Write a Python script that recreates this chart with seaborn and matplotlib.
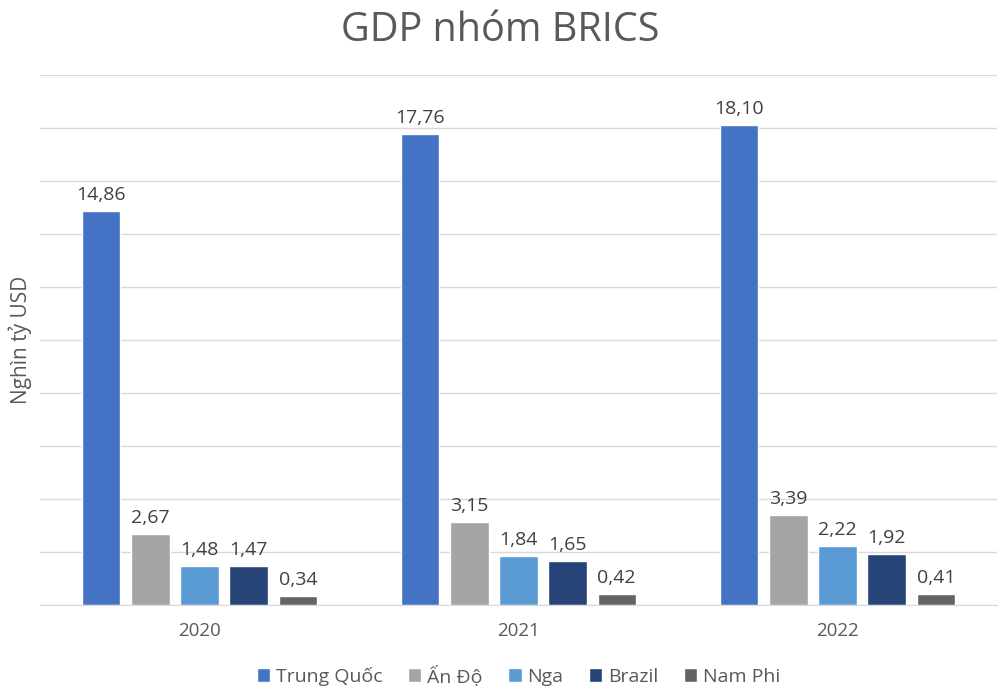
import matplotlib.pyplot as plt
import seaborn as sns
import pandas

years = ["2020", "2021", "2022"]
countries = ["Trung Quốc", "Ấn Độ", "Nga", "Brazil", "Nam Phi"]
trung_quoc = [14.86, 17.76, 18.10]
an_do = [2.67, 3.15, 3.39]
nga = [1.48, 1.84, 2.22]
brazil = [1.47, 1.65, 1.92]
nam_phi = [0.34, 0.42, 0.41]
colors = ["#4472C4", "#A5A5A5", "#5B9BD5", "#264478", "#636363"]

rows = []
for name, vals in zip(countries, [trung_quoc, an_do, nga, brazil, nam_phi]):
    for y, v in zip(years, vals):
        rows.append({"year": y, "country": name, "gdp": v})
df = pandas.DataFrame(rows)

sns.set_style("white")
plt.rcParams['font.family'] = ['Open Sans', 'DejaVu Sans']
text_color = "#595959"

fig = plt.figure(figsize=(10, 6.95), dpi=100)
ax = fig.add_axes([0.04, 0.1295, 0.957, 0.7625])

sns.barplot(data=df, x="year", y="gdp", hue="country", hue_order=countries,
            palette=colors, saturation=1, width=0.77, gap=0.22, ax=ax)

for cont in ax.containers:
    ax.bar_label(cont, labels=[f"{b.get_height():.2f}".replace(".", ",") for b in cont],
                 padding=5, fontsize=14, color="#404040")

ax.set_ylim(0, 20)
ax.set_yticks(range(0, 21, 2))
ax.set_yticklabels([])
ax.tick_params(axis="y", length=0)
ax.tick_params(axis="x", length=0, labelsize=13.5, labelcolor=text_color, pad=12)
ax.grid(axis="y", color="#D9D9D9", linewidth=1)
ax.set_axisbelow(True)
for s in ["top", "right", "left"]:
    ax.spines[s].set_visible(False)
ax.spines["bottom"].set_color("#D9D9D9")
ax.set_xlabel("")
ax.set_ylabel("Nghìn tỷ USD", fontsize=15, color=text_color, labelpad=2)
ax.set_xlim(-0.5, 2.5)

fig.suptitle("GDP nhóm BRICS", fontsize=28.5, color=text_color, y=0.985)

ax.legend(loc="upper center", bbox_to_anchor=(0.5, -0.08), ncol=5, frameon=False,
          fontsize=14, labelcolor=text_color, handlelength=0.7, handleheight=0.7,
          handletextpad=0.3, columnspacing=1.3)

plt.savefig("out.png")
